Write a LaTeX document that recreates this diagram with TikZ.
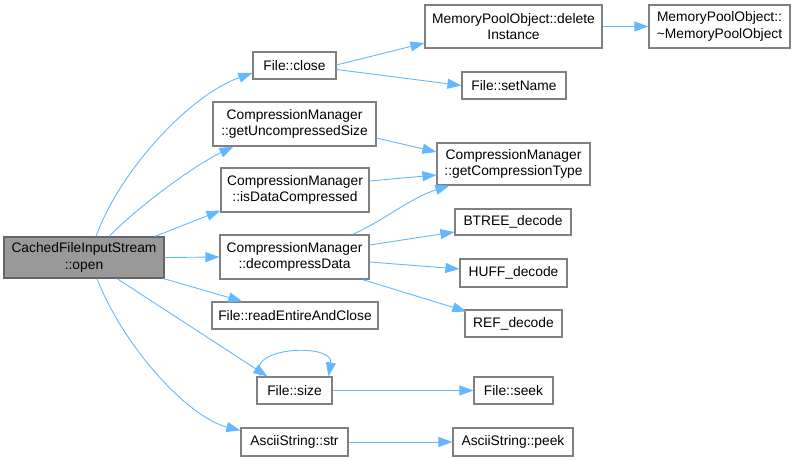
\documentclass[tikz,border=0pt]{standalone}
\usepackage{fontspec}
\setmainfont{Liberation Sans}
\usetikzlibrary{arrows.meta}
\definecolor{edgeblue}{HTML}{63B8FF}
\definecolor{boxborder}{HTML}{808080}
\definecolor{mainfill}{HTML}{999999}
\definecolor{mainborder}{HTML}{666666}
\begin{document}
\begin{tikzpicture}[x=1pt,y=-1pt,
  fn/.style={draw=boxborder, line width=1.2pt, fill=white, rectangle, inner sep=0pt,
    align=center, font=\fontsize{13.8}{16.8}\selectfont},
  mainfn/.style={fn, fill=mainfill, draw=mainborder},
  call/.style={draw=edgeblue, line width=0.9pt, -{Triangle[length=14pt,width=10pt]}}]
\useasboundingbox (0,0) rectangle (795,460);

\node[mainfn, minimum width=160, minimum height=41] (open) at (84,257.5) {CachedFileInputStream\\::open};
\node[fn, minimum width=83, minimum height=27] (close) at (294.5,65.5) {File::close};
\node[fn, minimum width=104, minimum height=27] (setname) at (514,85.5) {File::setName};
\node[fn, minimum width=177, minimum height=43] (delinst) at (513.5,26.5) {MemoryPoolObject::delete\\Instance};
\node[fn, minimum width=141, minimum height=43] (dtor) at (719.5,26.5) {MemoryPoolObject::\\\textasciitilde MemoryPoolObject};
\node[fn, minimum width=163, minimum height=44] (getunc) at (294.5,124) {CompressionManager\\::getUncompressedSize};
\node[fn, minimum width=153, minimum height=42] (getct) at (513.5,164) {CompressionManager\\::getCompressionType};
\node[fn, minimum width=148, minimum height=44] (isdata) at (295,190) {CompressionManager\\::isDataCompressed};
\node[fn, minimum width=116, minimum height=26] (btree) at (513,222) {BTREE\_decode};
\node[fn, minimum width=149, minimum height=44] (decomp) at (294.5,257) {CompressionManager\\::decompressData};
\node[fn, minimum width=107, minimum height=28] (huff) at (513.5,273) {HUFF\_decode};
\node[fn, minimum width=97, minimum height=27] (ref) at (513.5,323.5) {REF\_decode};
\node[fn, minimum width=166, minimum height=27] (readall) at (295,315.5) {File::readEntireAndClose};
\node[fn, minimum width=75, minimum height=27] (size) at (294.5,390.5) {File::size};
\node[fn, minimum width=79, minimum height=27] (seek) at (513.5,390.5) {File::seek};
\node[fn, minimum width=107, minimum height=28] (str) at (294.5,442) {AsciiString::str};
\node[fn, minimum width=120, minimum height=28] (peek) at (513,442) {AsciiString::peek};

% calls from open
\draw[call] ([xshift=12pt]open.north) .. controls (120,170) and (190,95) .. ([yshift=-7.5pt]close.west);
\draw[call] ([xshift=25pt]open.north) .. controls (140,205) and (195,165) .. ([xshift=-61pt]getunc.south);
\draw[call] ([xshift=71pt]open.north) -- ([yshift=2pt]isdata.south west);
\draw[call] (open.east) -- (decomp.west);
\draw[call] ([xshift=-1pt]open.south east) -- ([xshift=31pt]readall.north west);
\draw[call] ([xshift=33pt]open.south) -- ([xshift=11pt]size.north west);
\draw[call] ([xshift=13pt]open.south) .. controls (125,350) and (190,418) .. ([yshift=-3pt]str.north west);

% other calls
\draw[call] ([yshift=0.5pt]close.east) -- ([yshift=-16.5pt]delinst.west);
\draw[call] ([yshift=-4pt]close.east) -- (setname.west);
\draw[call] (delinst.east) -- (dtor.west);
\draw[call] ([yshift=-14pt]getunc.east) -- ([yshift=12pt]getct.west);
\draw[call] ([yshift=9pt]isdata.east) -- ([yshift=-11pt]getct.west);
\draw[call] ([xshift=58pt]decomp.north) .. controls (385,220) and (410,198) .. ([xshift=13pt]getct.south west);
\draw[call] ([yshift=12pt]decomp.east) -- ([yshift=-10pt]btree.west);
\draw[call] ([yshift=-5pt]decomp.east) -- ([yshift=4pt]huff.west);
\draw[call] ([xshift=-7pt]decomp.south east) -- ([xshift=2pt,yshift=-2pt]ref.north west);
\draw[call] ([xshift=4pt]size.north west) .. controls (245,346) and (334,343) .. ([xshift=-4pt]size.north east);
\draw[call] (size.east) -- (seek.west);
\draw[call] (str.east) -- (peek.west);
\end{tikzpicture}
\end{document}
